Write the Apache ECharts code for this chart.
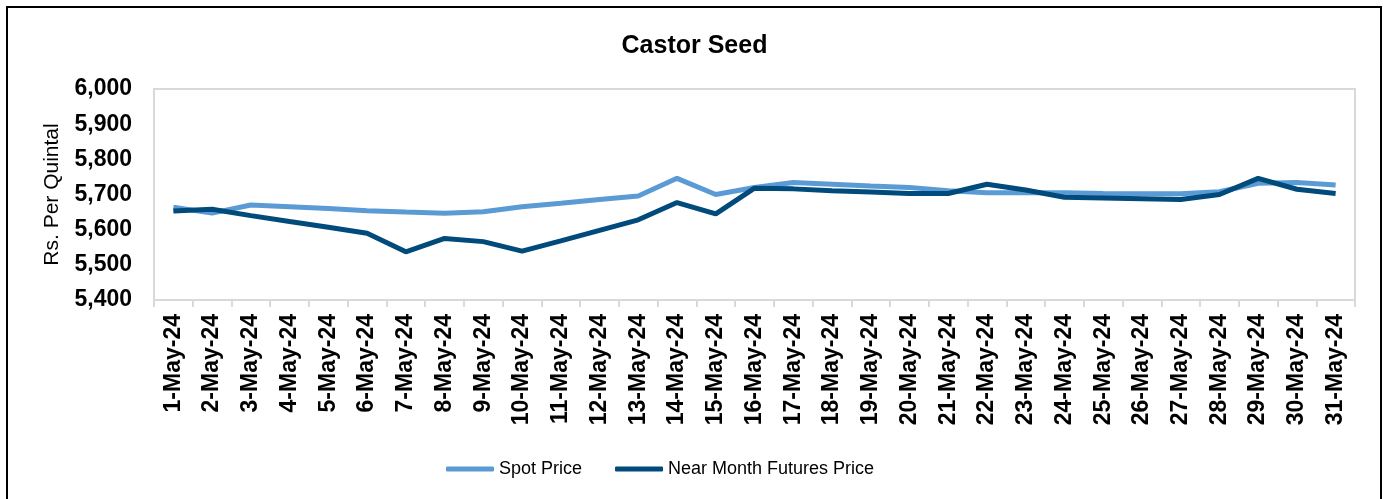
<!DOCTYPE html>
<html>
<head>
<meta charset="utf-8">
<script src="https://cdn.jsdelivr.net/npm/echarts@6/dist/echarts.min.js"></script>
<style>
html, body { margin: 0; padding: 0; background: #fff; }
.wrap { position: relative; width: 1389px; height: 499px; overflow: hidden; }
.frame { position: absolute; left: 6px; top: 6px; width: 1376px; height: 520px; border: 2px solid #000; box-sizing: border-box; }
#chart { position: absolute; left: 0; top: 0; width: 1389px; height: 499px; }
</style>
</head>
<body>
<div class="wrap">
  <div class="frame"></div>
  <div id="chart"></div>
</div>
<script>
// dates on the x axis
const days = []
for (let d = 1; d <= 31; d++) days.push(d + '-May-24')

// Rs. per quintal
const spotPrice = [5664, 5647, 5670, 5665, 5660, 5654, 5650, 5647, 5651, 5665,
  5675, 5686, 5696, 5746, 5700, 5720, 5734, 5729, 5724, 5720,
  5711, 5705, 5705, 5705, 5703, 5702, 5702, 5708, 5732, 5734, 5727]
const futuresPrice = [5653, 5658, 5640, 5623, 5607, 5590, 5537, 5575, 5566, 5539,
  5568, 5598, 5628, 5677, 5645, 5718, 5716, 5711, 5707, 5703,
  5703, 5729, 5713, 5692, 5690, 5688, 5686, 5700, 5746, 5715, 5703]

const chart = echarts.init(document.getElementById('chart'))

const option = {
  animation: false,
  title: {
    text: 'Castor Seed',
    left: 'center',
    top: 29,
    textStyle: { fontFamily: 'Arial, Liberation Sans', fontSize: 25, fontWeight: 'bold', color: '#000' }
  },
  legend: {
    left: 441,
    top: 455,
    icon: 'roundRect',
    itemWidth: 48,
    itemHeight: 5,
    itemGap: 33,
    textStyle: { fontFamily: 'Arial, Liberation Sans', fontSize: 18, color: '#000' },
    data: ['Spot Price', 'Near Month Futures Price']
  },
  grid: {
    left: 154,
    right: 34,
    top: 89,
    bottom: 199,
    show: true,
    borderColor: '#d9d9d9',
    borderWidth: 2,
    containLabel: false,
    outerBoundsMode: 'none'
  },
  xAxis: {
    type: 'category',
    data: days,
    boundaryGap: true,
    axisLine: { show: true, lineStyle: { color: '#d9d9d9', width: 2 } },
    axisTick: { show: true, interval: 0, length: 7, lineStyle: { color: '#d9d9d9', width: 2 } },
    axisLabel: {
      interval: 0,
      rotate: 90,
      margin: 14,
      fontFamily: 'Arial, Liberation Sans',
      fontSize: 23,
      fontWeight: 'bold',
      color: '#000'
    }
  },
  yAxis: {
    type: 'value',
    min: 5400,
    max: 6000,
    interval: 100,
    name: 'Rs. Per Quintal',
    nameLocation: 'middle',
    nameGap: 91,
    nameTextStyle: { fontFamily: 'Arial, Liberation Sans', fontSize: 21, color: '#000' },
    splitLine: { show: false },
    axisLine: { show: false },
    axisTick: { show: false },
    axisLabel: {
      margin: 22,
      fontFamily: 'Arial, Liberation Sans',
      fontSize: 23,
      fontWeight: 'bold',
      color: '#000',
      formatter: v => v.toLocaleString('en-US')
    }
  },
  series: [
    {
      name: 'Spot Price',
      type: 'line',
      data: spotPrice,
      showSymbol: false,
      symbol: 'none',
      itemStyle: { color: '#5b9bd5' },
      lineStyle: { color: '#5b9bd5', width: 5 }
    },
    {
      name: 'Near Month Futures Price',
      type: 'line',
      data: futuresPrice,
      showSymbol: false,
      symbol: 'none',
      itemStyle: { color: '#004a7c' },
      lineStyle: { color: '#004a7c', width: 5 }
    }
  ]
}

chart.setOption(option)
</script>
</body>
</html>
